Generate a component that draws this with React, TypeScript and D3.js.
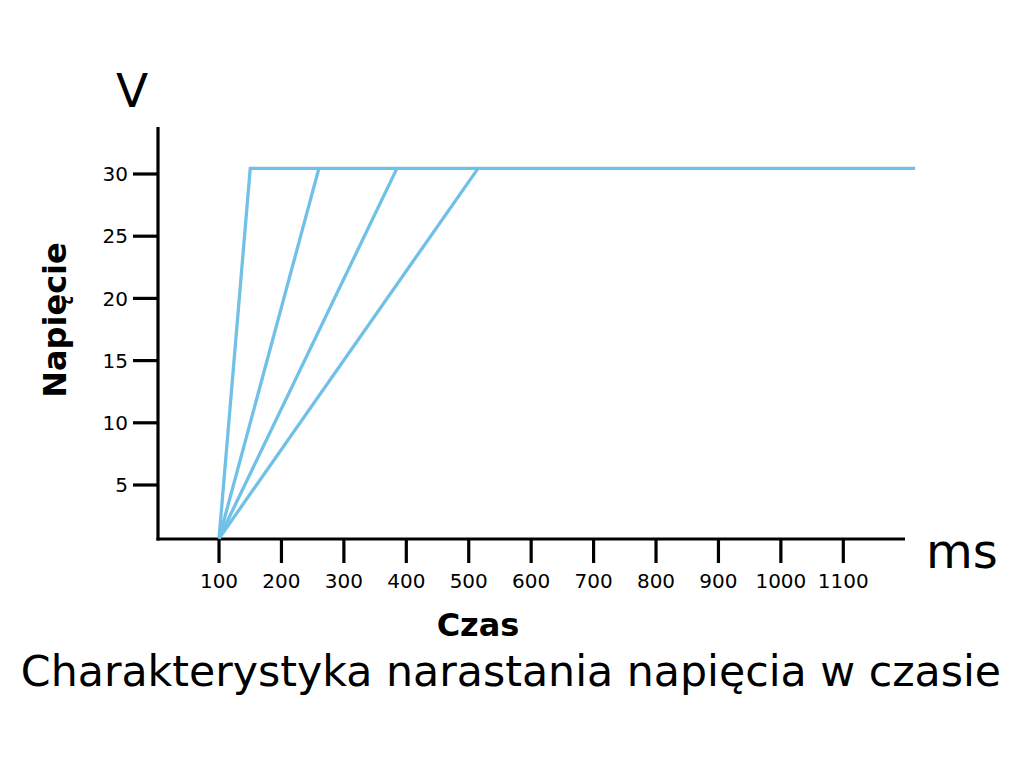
import React from 'react'
import * as d3 from 'd3'

const width = 1024
const height = 765
const lineColor = '#71c0e7'
const font = 'DejaVu Sans, sans-serif'

// time ticks (ms) and voltage ticks (V)
const xTicks = [100, 200, 300, 400, 500, 600, 700, 800, 900, 1000, 1100]
const yTicks = [5, 10, 15, 20, 25, 30]

// rise curves: start, end of ramp, end of plateau
const startTime = 100
const startVolt = 0.7
const rampEnds = [150, 260, 385, 515]
const plateauVolt = 30.45
const plateauEnd = 1215

const x = d3.scaleLinear().domain([0, 1100]).range([156.6, 843.3])
const y = d3.scaleLinear().domain([5, 30]).range([485, 174])

const App = () => {
  const line = d3.line<[number, number]>().x(d => x(d[0])).y(d => y(d[1]))
  const axisY = y(startVolt) + 0.5

  return (
    <svg width={width} height={height} style={{ position: 'absolute', left: 0, top: 0, background: '#fff' }}>
      <g fontFamily={font} fill="#000">
        {/* y axis */}
        <line x1={158} x2={158} y1={127} y2={axisY + 1.5} stroke="#000" strokeWidth={3.2} />
        {yTicks.map(t => (
          <g key={t}>
            <line x1={133} x2={158} y1={y(t)} y2={y(t)} stroke="#000" strokeWidth={3.2} />
            <text x={128} y={y(t)} dy="0.36em" textAnchor="end" fontSize={20}>{t}</text>
          </g>
        ))}
        {/* x axis */}
        <line x1={156.5} x2={905} y1={axisY} y2={axisY} stroke="#000" strokeWidth={3.2} />
        {xTicks.map(t => (
          <g key={t}>
            <line x1={x(t)} x2={x(t)} y1={axisY} y2={axisY + 24} stroke="#000" strokeWidth={3.2} />
            <text x={x(t)} y={588} textAnchor="middle" fontSize={20}>{t}</text>
          </g>
        ))}

        {/* curves */}
        {rampEnds.map((e, i) => (
          <path
            key={e}
            d={line([[startTime, startVolt], [e, plateauVolt], ...(i === 0 ? [[plateauEnd, plateauVolt] as [number, number]] : [])]) ?? ''}
            fill="none"
            stroke={lineColor}
            strokeWidth={3.3}
            strokeLinejoin="miter"
          />
        ))}

        {/* labels */}
        <text x={132} y={107} textAnchor="middle" fontSize={47}>V</text>
        <text x={926} y={568} fontSize={48}>ms</text>
        <text transform="translate(66,320) rotate(-90)" textAnchor="middle" fontSize={32} fontWeight="bold">Napięcie</text>
        <text x={478} y={636} textAnchor="middle" fontSize={32} fontWeight="bold">Czas</text>
        <text x={511} y={686} textAnchor="middle" fontSize={42.7}>Charakterystyka narastania napięcia w czasie</text>
      </g>
    </svg>
  )
}

export default App
